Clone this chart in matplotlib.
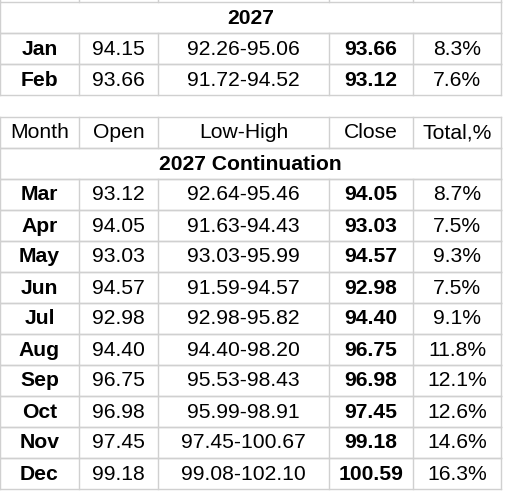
import matplotlib
matplotlib.use("Agg")
import matplotlib.pyplot as plt

# table data
header = ["Month", "Open", "Low-High", "Close", "Total,%"]
first_title = "2027"
first_months = ["Jan", "Feb"]
first_open = ["94.15", "93.66"]
first_range = ["92.26-95.06", "91.72-94.52"]
first_close = ["93.66", "93.12"]
first_total = ["8.3%", "7.6%"]

cont_title = "2027 Continuation"
months = ["Mar", "Apr", "May", "Jun", "Jul", "Aug", "Sep", "Oct", "Nov", "Dec"]
opens = ["93.12", "94.05", "93.03", "94.57", "92.98", "94.40", "96.75", "96.98", "97.45", "99.18"]
ranges = ["92.64-95.46", "91.63-94.43", "93.03-95.99", "91.59-94.57", "92.98-95.82",
          "94.40-98.20", "95.53-98.43", "95.99-98.91", "97.45-100.67", "99.08-102.10"]
closes = ["94.05", "93.03", "94.57", "92.98", "94.40", "96.75", "96.98", "97.45", "99.18", "100.59"]
totals = ["8.7%", "7.5%", "9.3%", "7.5%", "9.1%", "11.8%", "12.1%", "12.6%", "14.6%", "16.3%"]

W, H = 506, 491
cols = [0, 79, 158, 329, 413, 501]
grid = "#d0d0d0"
fs = 15.2
fam = ["Liberation Sans", "DejaVu Sans"]

fig = plt.figure(figsize=(W / 100, H / 100), dpi=100)
ax = fig.add_axes([0, 0, 1, 1])
ax.set_xlim(0, W)
ax.set_ylim(H, 0)
ax.axis("off")


def hline(y):
    ax.plot([cols[0], cols[-1]], [y, y], color=grid, lw=1)


def vlines(y0, y1, inner=True):
    xs = cols if inner else [cols[0], cols[-1]]
    for x in xs:
        ax.plot([x, x], [y0, y1], color=grid, lw=1)


def title_row(y0, text):
    hline(y0)
    hline(y0 + 31)
    vlines(y0, y0 + 31, inner=False)
    ax.text((cols[0] + cols[-1]) / 2, y0 + 16, text, ha="center", va="center",
            fontsize=fs, fontweight="bold", family=fam)


def data_row(y0, cells, bold):
    hline(y0)
    hline(y0 + 31)
    vlines(y0, y0 + 31)
    for i, c in enumerate(cells):
        ax.text((cols[i] + cols[i + 1]) / 2, y0 + 16, c, ha="center", va="center",
                fontsize=fs, fontweight="bold" if i in bold else "normal", family=fam)


# stub of previous row above
vlines(0, 2)
title_row(2, first_title)
for k in range(len(first_months)):
    data_row(33 + 31 * k, [first_months[k], first_open[k], first_range[k],
                           first_close[k], first_total[k]], bold=(0, 3))

data_row(117, header, bold=())
title_row(148, cont_title)
for k in range(len(months)):
    data_row(179 + 31 * k, [months[k], opens[k], ranges[k], closes[k], totals[k]], bold=(0, 3))

fig.savefig("out.png", dpi=100, facecolor="white")
